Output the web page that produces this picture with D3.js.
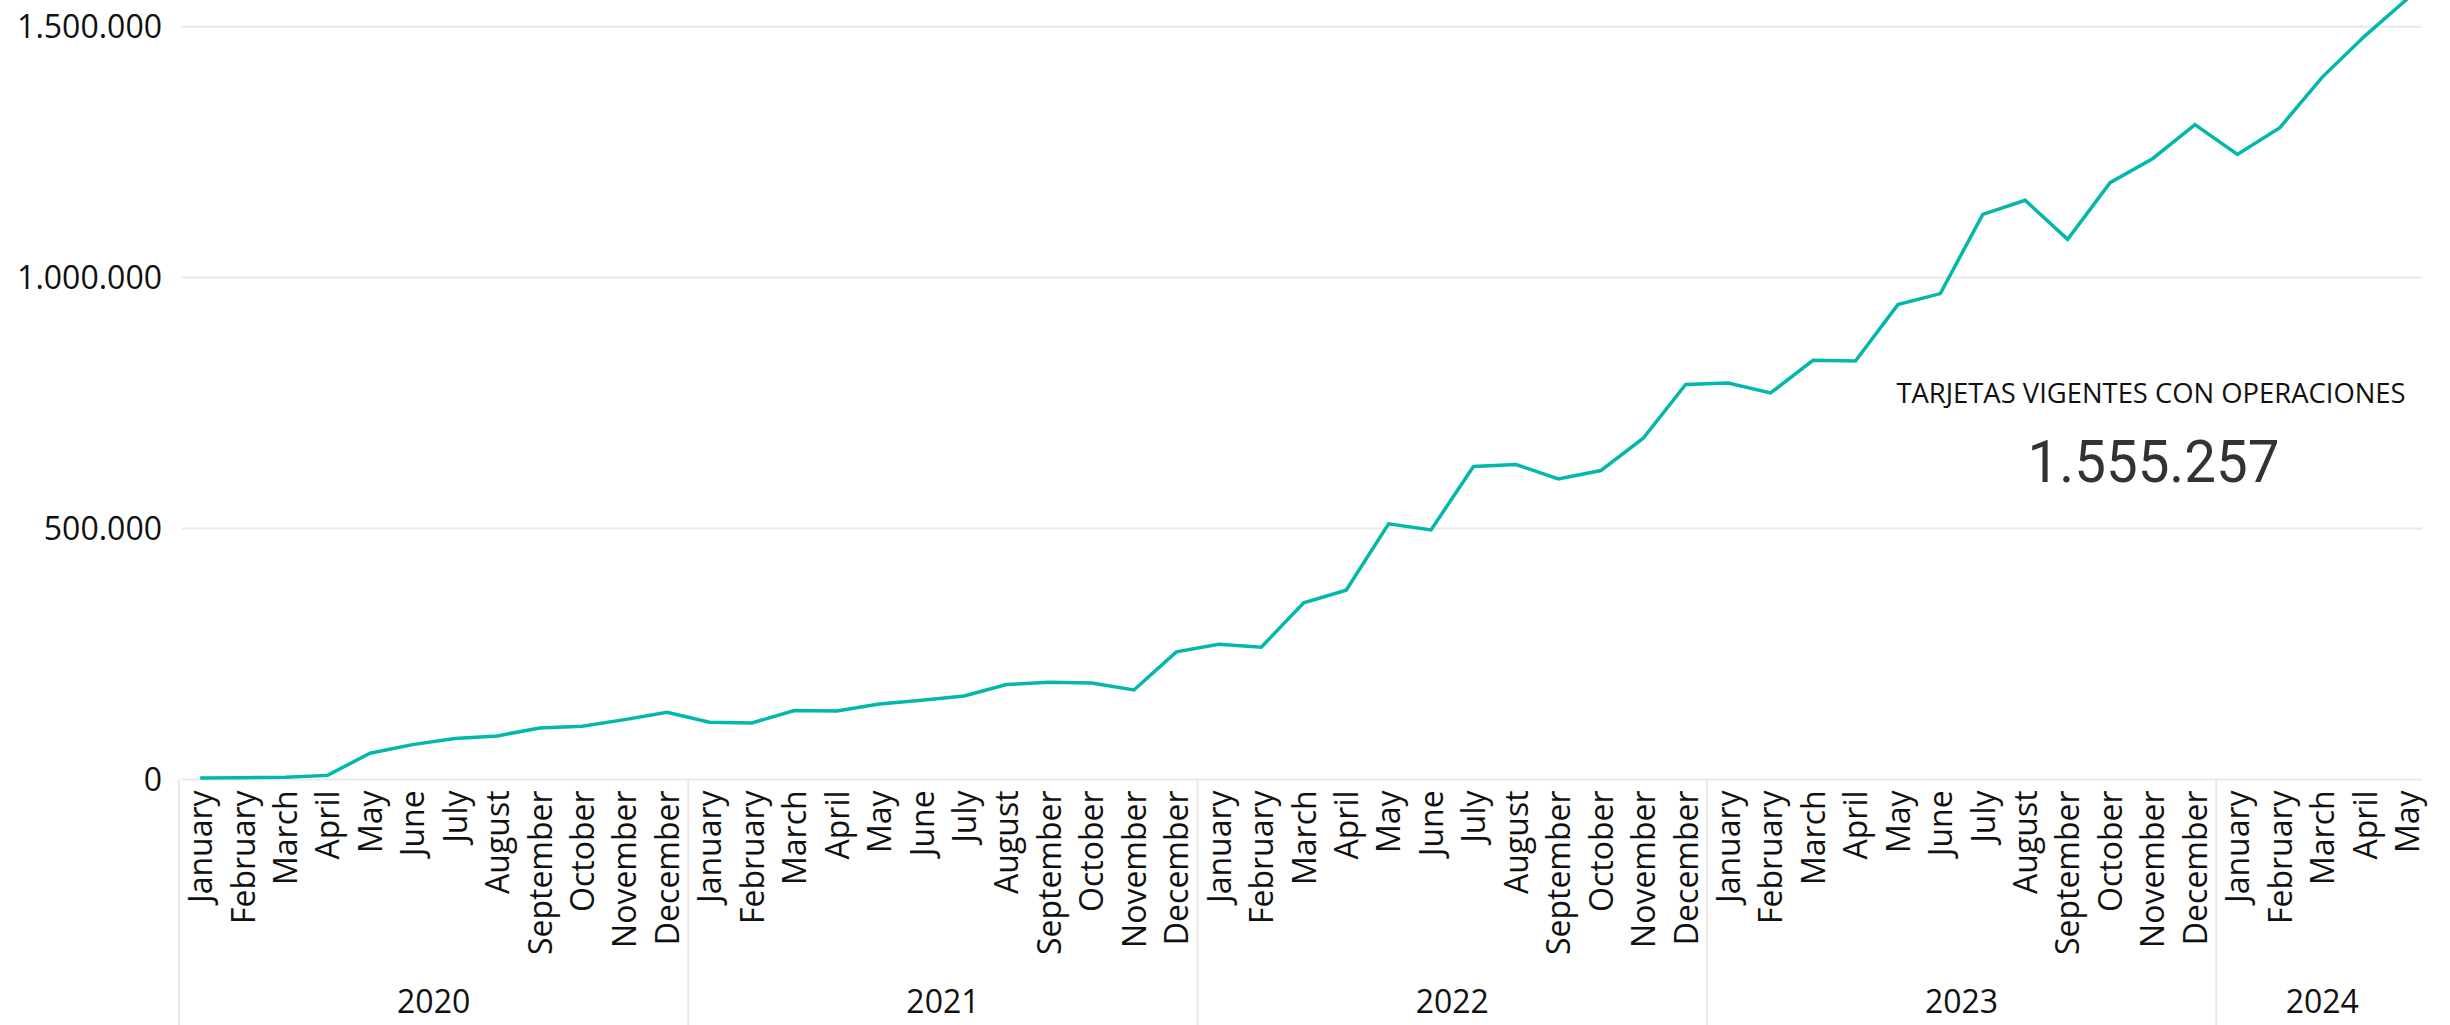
<!DOCTYPE html>
<html>
<head>
<meta charset="utf-8">
<script src="https://cdn.jsdelivr.net/npm/d3@7"></script>
<style>
  html, body { margin: 0; padding: 0; background: #fff; }
  svg { display: block; }
</style>
</head>
<body>
<svg id="chart" width="2450" height="1025"></svg>
<script>
// ---------- DATA ----------
const years = [2020, 2021, 2022, 2023, 2024];
const monthNames = ["January","February","March","April","May","June","July","August","September","October","November","December"];
const values2020 = [3000, 3500, 4500, 8000, 52200, 69300, 81300, 86700, 102600, 106000, 119100, 133900];
const values2021 = [113900, 112500, 137100, 136500, 150400, 157700, 166300, 188900, 193600, 192200, 178300, 254200];
const values2022 = [269500, 263500, 351800, 377100, 509200, 497200, 623500, 627500, 598800, 615500, 679900, 786900];
const values2023 = [790100, 770100, 835300, 833900, 946200, 968100, 1126100, 1154000, 1076300, 1189300, 1237000, 1304800];
const values2024 = [1245600, 1298800, 1399600, 1481300, 1555257];
const yTicks = [0, 500000, 1000000, 1500000];
const kpiTitle = "TARJETAS VIGENTES CON OPERACIONES";
const kpiValue = 1555257;

// ---------- LAYOUT ----------
const W = 2450, H = 1025;
const xLeft = 179, xRight = 2428.4;
const gridLeft = 181.5, gridRight = 2422;
const yZero = 779.4, yTop = 26.7;
const lineColor = "#01B8AA";
const gridColor = "#e9e9e9";
const axisFont = "'Segoe UI', 'Open Sans', 'Noto Sans', sans-serif";

const locale = d3.formatLocale({decimal: ",", thousands: ".", grouping: [3], currency: ["", ""]});
const fmt = locale.format(",d");

const allValues = [values2020, values2021, values2022, values2023, values2024];
const data = [];
years.forEach((yr, i) => {
  allValues[i].forEach((v, m) => data.push({year: yr, month: monthNames[m], key: yr + "-" + m, value: v}));
});

const svg = d3.select("#chart");

const x = d3.scaleBand().domain(data.map(d => d.key)).range([xLeft, xRight]).padding(0);
const y = d3.scaleLinear().domain([0, 1500000]).range([yZero, yTop]);

// gridlines
svg.append("g").selectAll("line").data(yTicks).join("line")
  .attr("x1", gridLeft).attr("x2", gridRight)
  .attr("y1", d => y(d)).attr("y2", d => y(d))
  .attr("stroke", gridColor).attr("stroke-width", 2);

// y axis labels
const yAxis = d3.axisLeft(y).tickValues(yTicks).tickFormat(fmt).tickSize(0).tickPadding(0);
const gy = svg.append("g").attr("transform", `translate(162,0)`).call(yAxis);
gy.select(".domain").remove();
gy.selectAll("text")
  .attr("font-family", axisFont).attr("font-size", 32).attr("fill", "#111")
  .attr("x", 0).attr("dy", "0.34em");

// year separators
const yearStarts = years.map(yr => data.find(d => d.year === yr).key);
svg.append("g").selectAll("line").data(yearStarts).join("line")
  .attr("x1", d => x(d)).attr("x2", d => x(d))
  .attr("y1", yZero).attr("y2", H)
  .attr("stroke", gridColor).attr("stroke-width", 2);

// month labels via axis
const xAxis = d3.axisBottom(x).tickSize(0).tickFormat(k => data.find(d => d.key === k).month);
const gx = svg.append("g").attr("transform", `translate(0,${yZero})`).call(xAxis);
gx.select(".domain").remove();
gx.selectAll("text")
  .attr("font-family", axisFont).attr("font-size", 32).attr("fill", "#111")
  .attr("text-anchor", "end")
  .attr("transform", "translate(0,11) rotate(-90)")
  .attr("x", 0).attr("y", 0).attr("dy", "0.37em");

// year labels
svg.append("g").selectAll("text").data(years).join("text")
  .attr("x", yr => {
    const ks = data.filter(d => d.year === yr).map(d => d.key);
    return (x(ks[0]) + x(ks[ks.length - 1]) + x.bandwidth()) / 2;
  })
  .attr("y", 1013)
  .attr("text-anchor", "middle")
  .attr("font-family", axisFont).attr("font-size", 32).attr("fill", "#111")
  .text(d => d);

// line
const line = d3.line().x(d => x(d.key) + x.bandwidth() / 2).y(d => y(d.value));
svg.append("path").datum(data)
  .attr("d", line)
  .attr("fill", "none")
  .attr("stroke", lineColor)
  .attr("stroke-width", 3.5);

// KPI card
svg.append("text")
  .attr("x", 2151).attr("y", 403)
  .attr("text-anchor", "middle")
  .attr("font-family", axisFont).attr("font-size", 27.4).attr("fill", "#111")
  .text(kpiTitle);
svg.append("text")
  .attr("x", 2153.5).attr("y", 482)
  .attr("text-anchor", "middle")
  .attr("font-family", "'DIN', 'Roboto', sans-serif").attr("font-size", 60).attr("fill", "#333")
  .attr("textLength", 252).attr("lengthAdjust", "spacingAndGlyphs")
  .text(fmt(kpiValue));
</script>
</body>
</html>
